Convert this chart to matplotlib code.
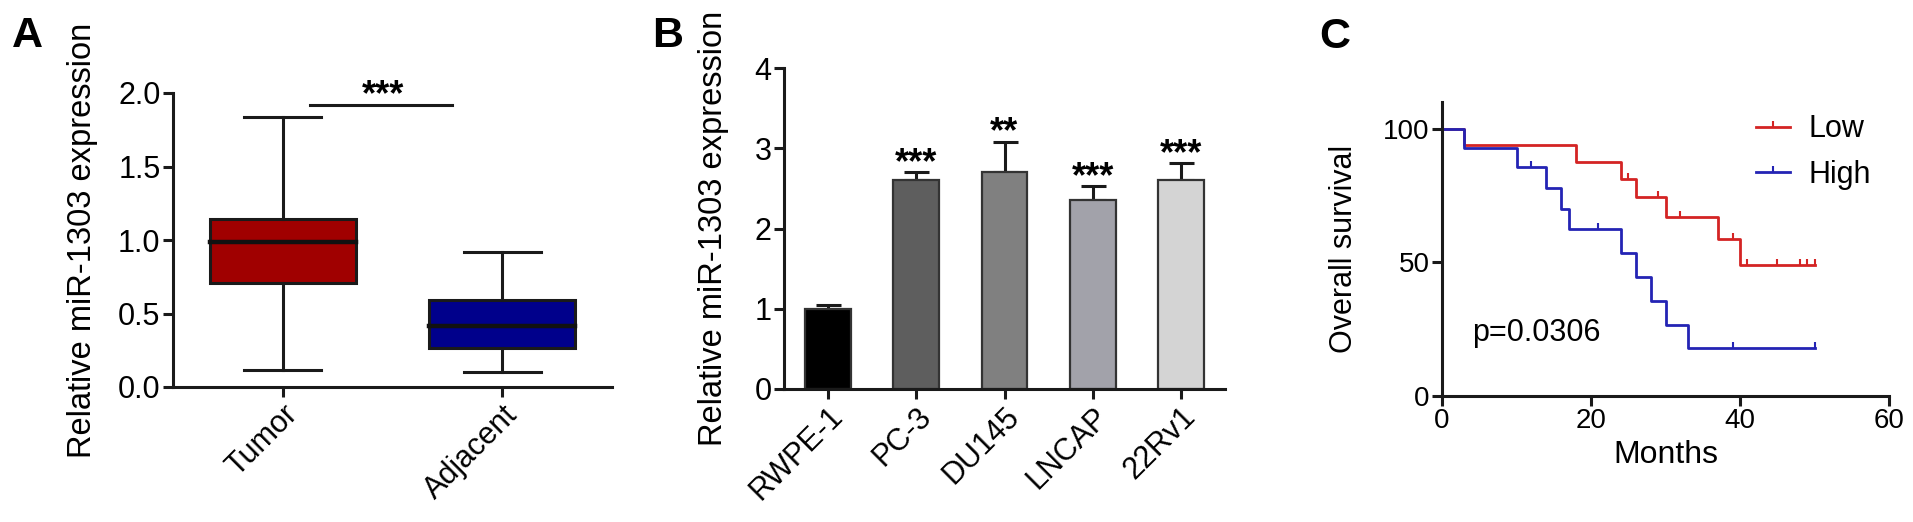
import numpy as np
import matplotlib
matplotlib.use("Agg")
import matplotlib.pyplot as plt
from matplotlib.lines import Line2D
from matplotlib.path import Path

plt.rcParams['font.family'] = ['Liberation Sans', 'DejaVu Sans']
plt.rcParams['font.size'] = 22

# panel A: box plot summaries (whisker low, Q1, median, Q3, whisker high)
box_groups = ["Tumor", "Adjacent"]
box_low = [0.118, 0.102]
box_q1 = [0.705, 0.262]
box_med = [0.983, 0.414]
box_q3 = [1.142, 0.594]
box_high = [1.838, 0.915]
box_colors = ["#a00000", "#00008b"]

# panel B: bar chart with upper error bars
cell_lines = ["RWPE-1", "PC-3", "DU145", "LNCAP", "22Rv1"]
bar_means = [1.00, 2.60, 2.70, 2.36, 2.60]
bar_err = [0.05, 0.10, 0.38, 0.17, 0.21]
bar_stars = ["", "***", "**", "***", "***"]
bar_colors = ["#000000", "#5e5e5e", "#808080", "#a2a2aa", "#d4d4d4"]

# panel C: Kaplan-Meier steps
low_t = [0, 3, 18, 24, 26, 30, 37, 40, 50]
low_s = [100, 93.8, 87.5, 81.3, 74.5, 67.0, 58.7, 48.9, 48.9]
low_ct = [25, 29, 32, 39, 41, 45, 48, 49, 50]
low_cs = [81.3, 74.5, 67.0, 58.7, 48.9, 48.9, 48.9, 48.9, 48.9]
high_t = [0, 3, 10, 14, 16, 17, 24, 26, 28, 30, 33, 50]
high_s = [100, 92.9, 85.7, 77.9, 70.1, 62.3, 53.4, 44.5, 35.6, 26.7, 17.8, 17.8]
high_ct = [12, 21, 39, 50]
high_cs = [85.7, 62.3, 17.8, 17.8]
low_color = "#d42424"
high_color = "#2424b4"

W, H = 1913, 522
fig = plt.figure(figsize=(W / 100, H / 100), dpi=100)

def box(l, t, r, b):
    return [l / W, 1 - b / H, (r - l) / W, (b - t) / H]

axc = "#1a1a1a"

def style(ax, size=22):
    for s in ["top", "right"]:
        ax.spines[s].set_visible(False)
    for s in ["left", "bottom"]:
        ax.spines[s].set_linewidth(2.2)
        ax.spines[s].set_color(axc)
    ax.tick_params(width=2.2, length=7, color=axc, labelsize=size, pad=2)

# upward censor tick
up_tick = Path([(0, 0), (0, 1)])

# ---- A
axA = fig.add_axes(box(173, 93, 612, 387))
style(axA)
bw = 0.667
for i in range(2):
    axA.add_patch(plt.Rectangle((i - bw / 2, box_q1[i]), bw, box_q3[i] - box_q1[i],
                                facecolor=box_colors[i], edgecolor=axc, lw=2.2, zorder=2))
    axA.plot([i - bw / 2, i + bw / 2], [box_med[i]] * 2, color="#111111", lw=3.2, zorder=3)
    axA.plot([i, i], [box_q3[i], box_high[i]], color=axc, lw=2.2)
    axA.plot([i, i], [box_low[i], box_q1[i]], color=axc, lw=2.2)
    axA.plot([i - 0.175, i + 0.175], [box_high[i]] * 2, color=axc, lw=2.2)
    axA.plot([i - 0.175, i + 0.175], [box_low[i]] * 2, color=axc, lw=2.2)
axA.plot([0.124, 0.771], [1.92, 1.92], color=axc, lw=2.2, clip_on=False)
axA.text(0.457, 1.92, "***", ha="center", va="baseline", fontsize=26,
         fontweight="bold", clip_on=False)
axA.set_xlim(-0.5, 1.5)
axA.set_ylim(0, 2.0)
axA.set_yticks([0, 0.5, 1.0, 1.5, 2.0])
axA.set_yticklabels(["0.0", "0.5", "1.0", "1.5", "2.0"])
axA.set_xticks([0, 1])
axA.set_xticklabels(box_groups, rotation=45, ha="right", rotation_mode="anchor")
axA.set_ylabel("Relative miR-1303 expression", fontsize=23.5, labelpad=14)
fig.text(12 / W, 1 - 47 / H, "A", fontsize=31, fontweight="bold")

# ---- B
axB = fig.add_axes(box(784, 68, 1225, 389))
style(axB)
x = np.arange(len(cell_lines))
axB.bar(x, bar_means, width=0.52, color=bar_colors, edgecolor="#333333", lw=1.6, zorder=2)
axB.errorbar(x, bar_means, yerr=[np.zeros(len(x)), bar_err], fmt="none",
             ecolor=axc, elinewidth=2.2, capsize=9, capthick=2.2, zorder=1)
for xi, m, e, s in zip(x, bar_means, bar_err, bar_stars):
    if s:
        axB.text(xi, m + e - 0.01, s, ha="center", va="baseline", fontsize=26,
                 fontweight="bold")
axB.set_xlim(-0.5, 4.5)
axB.set_ylim(0, 4)
axB.set_yticks([0, 1, 2, 3, 4])
axB.set_xticks(x)
axB.set_xticklabels(cell_lines, rotation=45, ha="right", rotation_mode="anchor")
axB.set_ylabel("Relative miR-1303 expression", fontsize=23.5, labelpad=18)
fig.text(652 / W, 1 - 47 / H, "B", fontsize=31, fontweight="bold")

# ---- C
axC = fig.add_axes(box(1442, 102, 1889, 396))
style(axC, 20)
axC.step(low_t, low_s, where="post", color=low_color, lw=2)
axC.step(high_t, high_s, where="post", color=high_color, lw=2)
axC.plot(low_ct, low_cs, ls="none", marker=up_tick, ms=8, mew=1.5, color=low_color)
axC.plot(high_ct, high_cs, ls="none", marker=up_tick, ms=8, mew=1.5, color=high_color)
axC.set_xlim(0, 60)
axC.set_ylim(0, 110)
axC.set_xticks([0, 20, 40, 60])
axC.set_yticks([0, 50, 100])
axC.set_xlabel("Months", fontsize=23, labelpad=4)
axC.set_ylabel("Overall survival", fontsize=22, labelpad=17)
axC.text(4.1, 23.5, "p=0.0306", ha="left", va="center", fontsize=22)
handles = [Line2D([], [], color=low_color, lw=2, marker=up_tick, ms=8, mew=1.5),
           Line2D([], [], color=high_color, lw=2, marker=up_tick, ms=8, mew=1.5)]
axC.legend(handles, ["Low", "High"], loc="upper right", bbox_to_anchor=(1.0, 1.02),
           frameon=False, fontsize=22, handlelength=1.1, handletextpad=0.6,
           labelspacing=0.5, borderaxespad=0.2)
fig.text(1319 / W, 1 - 48 / H, "C", fontsize=31, fontweight="bold")

fig.savefig("out.png", dpi=100)
